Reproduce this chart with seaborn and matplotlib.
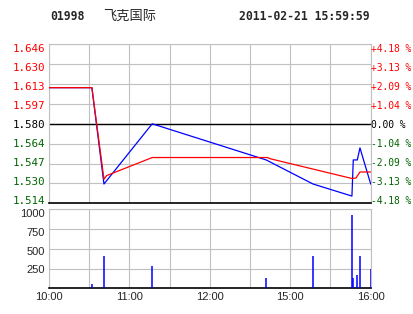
import matplotlib
matplotlib.use("Agg")
import matplotlib.pyplot as plt
import matplotlib.transforms as mtransforms
import seaborn as sns
import numpy as np
import pandas as pd

# ---- data ----
prev_close = 1.580
price_ticks = [1.646, 1.630, 1.613, 1.597, 1.580, 1.564, 1.547, 1.530, 1.514]
pct_labels = ["+4.18 %", "+3.13 %", "+2.09 %", "+1.04 %", "0.00 %",
              "-1.04 %", "-2.09 %", "-3.13 %", "-4.18 %"]
price_minutes = [0, 32, 41, 77, 162, 197, 226, 227, 230, 232, 240]
price_values = [1.61, 1.61, 1.53, 1.58, 1.55, 1.53, 1.52, 1.55, 1.55, 1.56, 1.53]
avg_minutes = [0, 32, 41, 43, 77, 163, 165, 226, 229, 232, 240]
avg_values = [1.61, 1.61, 1.534, 1.537, 1.552, 1.552, 1.551, 1.5346, 1.535, 1.540, 1.540]
vol_minutes = [32, 41, 77, 162, 197, 226, 227, 230, 232, 240]
vol_values = [50, 410, 280, 130, 410, 930, 130, 165, 410, 240]
vol_ticks = [250, 500, 750, 1000]
time_ticks = [0, 60, 120, 180, 240]
time_labels = ["10:00", "11:00", "12:00", "15:00", "16:00"]
code = "01998"
name = "飞克国际"
stamp = "2011-02-21 15:59:59"

sns.set_style("white")
plt.rcParams['font.family'] = ['DejaVu Sans']

W, H = 414, 314
fig = plt.figure(figsize=(W / 100, H / 100), dpi=100)
fig.patch.set_facecolor("white")

def frac(x0, y_top, x1, y_bot):
    return [x0 / W, 1 - y_bot / H, (x1 - x0) / W, (y_bot - y_top) / H]

def shift(lab, dy_px):
    lab.set_transform(lab.get_transform() +
                      mtransforms.ScaledTranslation(0, dy_px / 100, fig.dpi_scale_trans))

ax = fig.add_axes(frac(49, 44.3, 370.7, 203.3))
axv = fig.add_axes(frac(49, 209.3, 370.7, 288.3))

grid_c = "#c0c0c0"
green = "#006400"
half = 0.066
ylo, yhi = prev_close - half, prev_close + half
tick_pos = [prev_close + half * k / 4 for k in range(4, -5, -1)]

def lab_color(v):
    if abs(v - prev_close) < 1e-9:
        return "black"
    return "red" if v > prev_close else green

# price panel
df_p = pd.DataFrame({"m": price_minutes, "p": price_values})
df_a = pd.DataFrame({"m": avg_minutes, "p": avg_values})
sns.lineplot(data=df_p, x="m", y="p", color="#0000ff", lw=0.9, ax=ax, zorder=3)
sns.lineplot(data=df_a, x="m", y="p", color="#ff0000", lw=0.9, ax=ax, zorder=4)
ax.set_xlim(0, 240)
ax.set_ylim(ylo, yhi)
ax.set_xticks(np.arange(0, 241, 30))
ax.set_xticklabels([])
ax.set_yticks(tick_pos)
ax.tick_params(length=0, pad=3)
ax.set_yticklabels([f"{v:.3f}" for v in price_ticks], family="DejaVu Sans Mono", fontsize=7.8)
for i, (lab, v) in enumerate(zip(ax.get_yticklabels(), price_ticks)):
    lab.set_color(lab_color(v))
    shift(lab, -(4 - i) * 0.85)
ax.grid(True, color=grid_c, lw=0.8)
ax.axhline(prev_close, color="black", lw=1.0, zorder=2)
ax.set_xlabel("")
ax.set_ylabel("")
for s in ["left", "right", "top"]:
    ax.spines[s].set_color(grid_c)
    ax.spines[s].set_linewidth(0.8)
ax.spines["bottom"].set_color("black")
ax.spines["bottom"].set_linewidth(1.2)

axr = ax.twinx()
axr.set_ylim(ylo, yhi)
axr.set_yticks(tick_pos)
axr.tick_params(length=0, pad=0.5)
axr.set_yticklabels(pct_labels, family="DejaVu Sans Mono", fontsize=6.9)
for i, (lab, v) in enumerate(zip(axr.get_yticklabels(), price_ticks)):
    lab.set_color(lab_color(v))
    shift(lab, -(4 - i) * 0.85)
for s in axr.spines.values():
    s.set_visible(False)

# volume panel
axv.vlines(vol_minutes, 0, vol_values, color="#0000ff", lw=1.1, zorder=3)
axv.set_xlim(0, 240)
axv.set_ylim(0, 1000)
axv.tick_params(which="both", length=0, pad=3)
axv.set_xticks(time_ticks)
axv.set_xticklabels(time_labels, family="Liberation Sans", fontsize=8)
axv.set_xticks(np.arange(0, 241, 30), minor=True)
axv.set_yticks(vol_ticks)
axv.set_yticklabels([str(v) for v in vol_ticks], family="Liberation Sans", fontsize=8)
for lab, dy in zip(axv.get_yticklabels(), [-0.7, -2.4, -3.0, -3.7]):
    shift(lab, dy)
axv.grid(True, which="both", color=grid_c, lw=0.8)
for s in ["left", "right", "top"]:
    axv.spines[s].set_color(grid_c)
    axv.spines[s].set_linewidth(0.8)
axv.spines["bottom"].set_color("black")
axv.spines["bottom"].set_linewidth(1.2)

# header
fig.text(50 / W, 1 - 16 / H, code, family="DejaVu Sans Mono", fontweight="bold",
         fontsize=8.3, va="center", ha="left")
fig.text(103 / W, 1 - 16 / H, name, family=["Noto Sans CJK SC", "DejaVu Sans"],
         fontsize=9.5, va="center", ha="left")
fig.text(370 / W, 1 - 16 / H, stamp, family="DejaVu Sans Mono", fontweight="bold",
         fontsize=8.3, va="center", ha="right")

fig.savefig("out.png", dpi=100, facecolor="white")
